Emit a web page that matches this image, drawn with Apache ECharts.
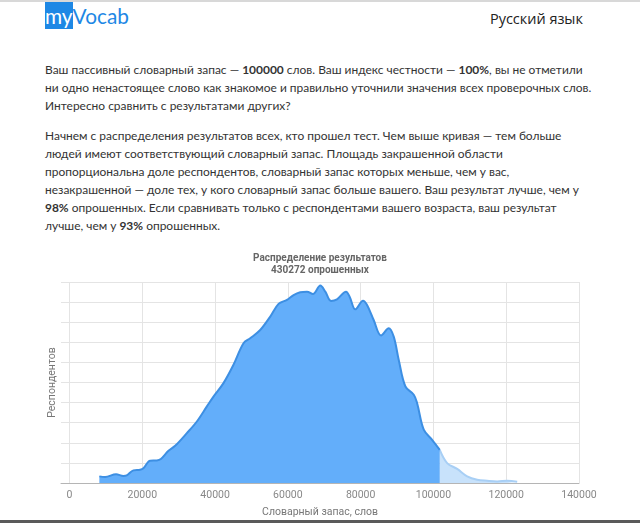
<!DOCTYPE html>
<html><head><meta charset="utf-8">
<script src="https://cdn.jsdelivr.net/npm/echarts@6/dist/echarts.min.js"></script>
<style>
html,body{margin:0;padding:0;background:#fff;}
body{width:640px;height:523px;position:relative;overflow:hidden;font-family:"Lato","Open Sans",sans-serif;color:#333;}
#topline{position:absolute;left:0;top:0;width:640px;height:2px;background:#d8d8d8;}
#botline{position:absolute;left:0;top:520px;width:640px;height:3px;background:#5a5a5a;}
#chart{position:absolute;left:0;top:0;width:640px;height:523px;}
.logo{position:absolute;left:45px;top:2px;font-size:23px;font-family:"Lato",sans-serif;white-space:nowrap;}
.logo span{display:inline-block;height:27px;line-height:27px;vertical-align:top;}
.logo .my{background:#1e88e5;color:#fff;}
.logo .v{color:#1e88e5;}
.lang{position:absolute;left:490px;top:9px;font-size:15px;color:#222;font-family:"Open Sans",sans-serif;white-space:nowrap;}
.p{position:absolute;left:45px;font-size:13px;line-height:18px;white-space:nowrap;color:#333;font-family:"Lato","Open Sans",sans-serif;}
.p b{font-weight:bold;}
</style></head>
<body>
<div id="topline"></div>
<div class="logo" id="logo"><span class="my">my</span><span class="v">Vocab</span></div>
<div class="lang" id="lang">Русский язык</div>
<div class="p" id="p1" style="top:61px"><span id="l1">Ваш пассивный словарный запас — <b>100000</b> слов. Ваш индекс честности — <b>100%</b>, вы не отметили</span><br>ни одно ненастоящее слово как знакомое и правильно уточнили значения всех проверочных слов.<br>Интересно сравнить с результатами других?</div>
<div class="p" id="p2" style="top:127px">Начнем с распределения результатов всех, кто прошел тест. Чем выше кривая — тем больше<br>людей имеют соответствующий словарный запас. Площадь закрашенной области<br>пропорциональна доле респондентов, словарный запас которых меньше, чем у вас,<br>незакрашенной — доле тех, у кого словарный запас больше вашего. Ваш результат лучше, чем у<br><b>98%</b> опрошенных. Если сравнивать только с респондентами вашего возраста, ваш результат<br>лучше, чем у <b>93%</b> опрошенных.</div>
<div id="chart"></div>
<div id="botline"></div>
<script>
// Vocabulary size (words) and relative number of respondents (0-100 scale)
const shadedX = [8200, 9770, 12790, 14800, 15730, 17560, 19400, 20300, 22150, 23990, 25100, 27200, 29030, 32240, 35000, 37750, 39560, 42310, 45060, 47810, 49650, 52400, 55160, 57440, 59750, 61570, 63400, 65250, 66900, 68920, 70290, 71860, 73500, 75980, 76970, 78540, 80660, 81760, 83580, 85600, 87710, 89090, 90470, 92300, 94600, 95520, 97340, 99640, 101740];
const shadedY = [3.3, 3.0, 4.3, 3.5, 3.8, 6.3, 6.6, 7.3, 11.1, 11.2, 11.9, 16.0, 18.5, 24.8, 30.6, 38.1, 43.0, 49.7, 58.8, 69.5, 72.0, 76.1, 82.8, 89.1, 91.1, 93.5, 94.9, 95.2, 94.0, 98.2, 95.2, 90.6, 91.4, 95.2, 92.7, 86.4, 90.7, 88.6, 81.1, 73.4, 77.0, 72.8, 61.2, 48.0, 43.9, 39.7, 26.5, 21.5, 16.5];
const restX = [101740, 103770, 106520, 109270, 112020, 114770, 117520, 120270, 123020];
const restY = [16.5, 9.9, 7.0, 3.3, 1.6, 1.1, 0.8, 1.1, 0.6];
const xTicks = [0, 20000, 40000, 60000, 80000, 100000, 120000, 140000];
const chartTitle = 'Распределение результатов';
const chartSubtitle = '430272 опрошенных';
const xName = 'Словарный запас, слов';
const yName = 'Респондентов';

// fit page text widths to the reference layout
function fitFont(el, measureEl, target, base) {
  const w = measureEl.getBoundingClientRect().width;
  el.style.fontSize = (base * target / w).toFixed(2) + 'px';
}
fitFont(document.getElementById('p1'), document.getElementById('l1'), 538, 13);
document.getElementById('p2').style.fontSize = document.getElementById('p1').style.fontSize;
fitFont(document.getElementById('logo'), document.getElementById('logo'), 84, 23);
fitFont(document.getElementById('lang'), document.getElementById('lang'), 93, 15);

const pairs = (xs, ys) => xs.map((x, i) => [x, ys[i]]);
const chart = echarts.init(document.getElementById('chart'), null, {renderer: 'canvas'});
chart.setOption({
  backgroundColor: 'transparent',
  animation: false,
  title: {
    text: chartTitle + '\n' + chartSubtitle,
    left: 'center', top: 247,
    textStyle: {fontFamily: 'Roboto', fontSize: 10, fontWeight: 'bold', color: '#666', lineHeight: 12}
  },
  grid: {left: 61, right: 61, top: 282, bottom: 40},
  xAxis: {
    type: 'value', min: -2340, max: 140000,
    name: xName, nameLocation: 'middle', nameGap: 24,
    nameTextStyle: {fontFamily: 'Roboto', fontSize: 10.5, color: '#777'},
    axisLine: {show: true, lineStyle: {color: '#b5b5b5', width: 1}},
    axisTick: {show: false, customValues: xTicks},
    axisLabel: {customValues: xTicks, formatter: v => String(v), fontFamily: 'Roboto', fontSize: 10.5, color: '#888', margin: 7},
    splitLine: {show: true, lineStyle: {color: '#e4e4e4', width: 1}}
  },
  yAxis: {
    type: 'value', min: 0, max: 100, interval: 10,
    name: yName, nameLocation: 'middle', nameGap: 3, nameRotate: 90,
    nameTextStyle: {fontFamily: 'Roboto', fontSize: 10.5, color: '#777'},
    axisLine: {show: false}, axisTick: {show: false}, axisLabel: {show: false},
    splitLine: {show: true, lineStyle: {color: '#e4e4e4', width: 1}}
  },
  series: [
    {
      type: 'line', data: pairs(restX, restY), smooth: 0.35, symbol: 'none',
      lineStyle: {color: '#a8cff5', width: 2},
      areaStyle: {color: '#c8e2fb', opacity: 1}, z: 2
    },
    {
      type: 'line', data: pairs(shadedX, shadedY), smooth: 0.35, symbol: 'none',
      lineStyle: {color: '#3d8fe3', width: 2},
      areaStyle: {color: '#63aefa', opacity: 1}, z: 3
    }
  ]
});
</script>
</body></html>
